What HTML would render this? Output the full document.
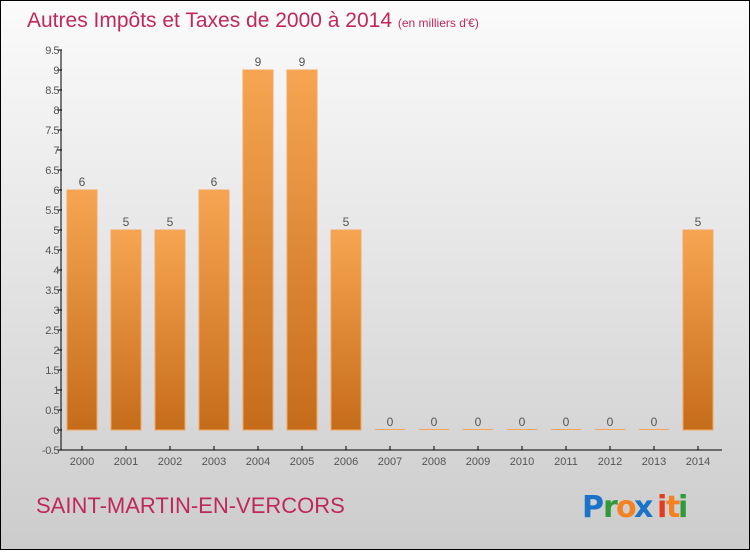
<!DOCTYPE html>
<html><head><meta charset="utf-8"><style>
body{margin:0;width:750px;height:550px;overflow:hidden;font-family:"Liberation Sans",sans-serif}
</style></head><body>
<svg width="750" height="550" xmlns="http://www.w3.org/2000/svg">
<defs>
<linearGradient id="bg" x1="0" y1="0" x2="0" y2="1"><stop offset="0" stop-color="#fbfbfb"/><stop offset="1" stop-color="#cccccc"/></linearGradient>
<linearGradient id="bar" x1="0" y1="0" x2="0" y2="1"><stop offset="0" stop-color="#f7a552"/><stop offset="1" stop-color="#c56c1a"/></linearGradient>
</defs>
<rect x="0.5" y="0.5" width="749" height="549" fill="url(#bg)" stroke="#000"/>
<text x="27" y="27" font-size="21" fill="#c0285c">Autres Impôts et Taxes de 2000 à 2014 <tspan font-size="12">(en milliers d'€)</tspan></text>
<g id="plot"></g>
<text x="36" y="513" font-size="22" fill="#c0285c">SAINT-MARTIN-EN-VERCORS</text>
<g font-size="30" font-weight="bold" font-family="'DejaVu Sans',sans-serif">
<text x="582" y="517" fill="#1a73c9">P</text><text x="603" y="517" fill="#2e9a3a">r</text><text x="616" y="517" fill="#f58220">o</text><text x="634" y="517" fill="#1a73c9">x</text><text x="657" y="517" fill="#e53b1e">i</text><text x="666" y="517" fill="#f58220">t</text><text x="678" y="517" fill="#2e9a3a">i</text>
</g>
</svg>
<script>
const categories=["2000","2001","2002","2003","2004","2005","2006","2007","2008","2009","2010","2011","2012","2013","2014"];
const values=[6,5,5,6,9,9,5,0,0,0,0,0,0,0,5];
const yTicks=[-0.5,0,0.5,1,1.5,2,2.5,3,3.5,4,4.5,5,5.5,6,6.5,7,7.5,8,8.5,9,9.5];
const NS="http://www.w3.org/2000/svg";
const g=document.getElementById('plot');
const y=v=>430-v*40;
const x=i=>82+i*44;
function el(t,a,txt){const e=document.createElementNS(NS,t);for(const k in a)e.setAttribute(k,a[k]);if(txt!==undefined)e.textContent=txt;g.appendChild(e);return e;}
let ax=el('line',{x1:61,y1:50,x2:61,y2:450,stroke:'#000'});

let bx=el('line',{x1:61,y1:450,x2:722,y2:450,stroke:'#000'});

yTicks.forEach(v=>{
 let t=el('line',{x1:57,y1:y(v),x2:62,y2:y(v),stroke:'#000'});
 
 let l=el('text',{x:59,y:y(v)+4,'font-size':11,fill:'#555','text-anchor':'end','letter-spacing':'-0.5'},String(v));
 
});
categories.forEach((c,i)=>{
 const v=values[i],cx=x(i);
 let t=el('line',{x1:cx,y1:446,x2:cx,y2:450,stroke:'#000'});
 
 let l=el('text',{x:cx,y:465,'font-size':11,fill:'#555','text-anchor':'middle'},c);
 
 const h=Math.max(1,y(0)-y(v));
 let b=el('rect',{x:cx-15,y:y(0)-h,width:30,height:h,fill:v>0?'url(#bar)':'#f7a552',stroke:'#f4a860','stroke-width':v>0?1:0});
 
 let vl=el('text',{x:cx,y:y(v)-4,'font-size':12,fill:'#555','text-anchor':'middle'},String(v));
 
});
</script>
</body></html>
